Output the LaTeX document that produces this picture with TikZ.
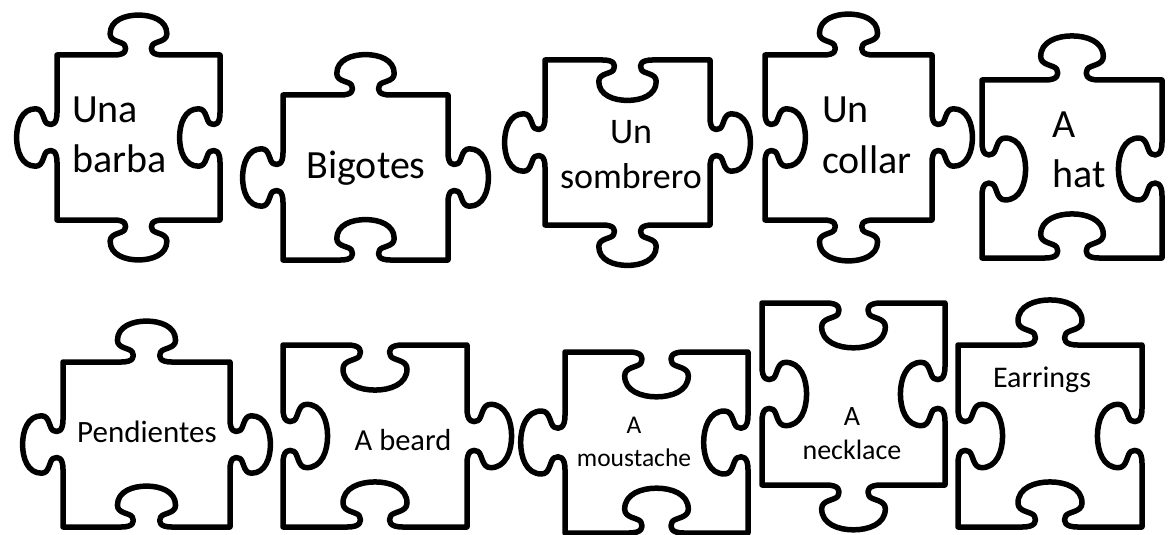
\documentclass[tikz,border=0pt]{standalone}
\usepackage{fontspec}
\setmainfont{Carlito}
\usetikzlibrary{calc}
\tikzset{
 piece/.style={line width=5.5pt, line join=round, line cap=round, draw=black},
 lab/.style={inner sep=0pt, text=black},
 tab/.style={to path={
  -- ($(\tikztostart)!0.35!(\tikztotarget)$)
  .. controls ($(\tikztostart)!0.42!(\tikztotarget)$)
     and ($(\tikztostart)!0.43!(\tikztotarget)!{#1*0.03/0.57}!90:(\tikztotarget)$)
  .. ($(\tikztostart)!0.415!(\tikztotarget)!{#1*0.06/0.585}!90:(\tikztotarget)$)
  .. controls ($(\tikztostart)!0.40!(\tikztotarget)!{#1*0.085/0.60}!90:(\tikztotarget)$)
     and ($(\tikztostart)!0.326!(\tikztotarget)!{#1*0.08/0.674}!90:(\tikztotarget)$)
  .. ($(\tikztostart)!0.326!(\tikztotarget)!{#1*0.13/0.674}!90:(\tikztotarget)$)
  .. controls ($(\tikztostart)!0.326!(\tikztotarget)!{#1*0.215/0.674}!90:(\tikztotarget)$)
     and ($(\tikztostart)!0.42!(\tikztotarget)!{#1*0.245/0.58}!90:(\tikztotarget)$)
  .. ($(\tikztostart)!0.5!(\tikztotarget)!{#1*0.245/0.5}!90:(\tikztotarget)$)
  .. controls ($(\tikztostart)!0.58!(\tikztotarget)!{#1*0.245/0.42}!90:(\tikztotarget)$)
     and ($(\tikztostart)!0.674!(\tikztotarget)!{#1*0.215/0.326}!90:(\tikztotarget)$)
  .. ($(\tikztostart)!0.674!(\tikztotarget)!{#1*0.13/0.326}!90:(\tikztotarget)$)
  .. controls ($(\tikztostart)!0.674!(\tikztotarget)!{#1*0.08/0.326}!90:(\tikztotarget)$)
     and ($(\tikztostart)!0.60!(\tikztotarget)!{#1*0.085/0.40}!90:(\tikztotarget)$)
  .. ($(\tikztostart)!0.585!(\tikztotarget)!{#1*0.06/0.415}!90:(\tikztotarget)$)
  .. controls ($(\tikztostart)!0.57!(\tikztotarget)!{#1*0.03/0.43}!90:(\tikztotarget)$)
     and ($(\tikztostart)!0.58!(\tikztotarget)$)
  .. ($(\tikztostart)!0.65!(\tikztotarget)$)
  -- (\tikztotarget)
 }}
}
\begin{document}
\begin{tikzpicture}[x=1pt,y=-1pt]
\useasboundingbox[fill=white] (0,0) rectangle (1168,535);
% row 1
\draw[piece] (57,55) to[tab=1] (220,55) to[tab=-1] (220,220) to[tab=1] (57,220) to[tab=1] (57,55) -- cycle;
\draw[piece] (283,95) to[tab=1] (448,95) to[tab=1] (448,260) to[tab=-1] (283,260) to[tab=1] (283,95) -- cycle;
\draw[piece] (545,60) to[tab=-1] (710,60) to[tab=1] (710,225) to[tab=1] (545,225) to[tab=1] (545,60) -- cycle;
\draw[piece] (765,55) to[tab=1] (932,55) to[tab=1] (932,220) to[tab=1] (765,220) to[tab=-1] (765,55) -- cycle;
\draw[piece] (982,80) to[tab=1] (1162,80) to[tab=-1] (1162,258) to[tab=-1] (982,258) to[tab=-1] (982,80) -- cycle;
% row 2
\draw[piece] (63,362) to[tab=1] (230,362) to[tab=1] (230,527) to[tab=-1] (63,527) to[tab=1] (63,362) -- cycle;
\draw[piece] (283,345) to[tab=-1] (467,345) to[tab=1] (467,527) to[tab=-1] (283,527) to[tab=-1] (283,345) -- cycle;
\draw[piece] (565,352) to[tab=-1] (748,352) to[tab=-1] (748,533) to[tab=-1] (565,533) to[tab=1] (565,352) -- cycle;
\draw[piece] (762,303) to[tab=-1] (945,303) to[tab=-1] (945,485) to[tab=1] (762,485) to[tab=-1] (762,303) -- cycle;
\draw[piece] (958,345) to[tab=1] (1142,345) to[tab=-1] (1142,527) to[tab=-1] (958,527) to[tab=-1] (958,345) -- cycle;
% labels
\node[lab, font=\fontsize{40}{50}\selectfont, align=left, anchor=west] (t1) at (72,135) {Una\\barba};
\node[lab, font=\fontsize{40}{50}\selectfont] (t2) at (366,168) {Bigotes};
\node[lab, font=\fontsize{36}{45}\selectfont, align=center] (t3) at (631,155) {Un\\sombrero};
\node[lab, font=\fontsize{40}{51}\selectfont, align=left, anchor=west] (t4) at (822,135) {Un\\collar};
\node[lab, font=\fontsize{40}{50}\selectfont, align=left, anchor=west] (t5) at (1052,150) {A\\hat};
\node[lab, font=\fontsize{31}{38}\selectfont] (t6) at (147,432) {Pendientes};
\node[lab, font=\fontsize{30.5}{37}\selectfont] (t7) at (403,440) {A beard};
\node[lab, font=\fontsize{25.5}{33}\selectfont, align=center] (t8) at (634,442) {A\\moustache};
\node[lab, font=\fontsize{28}{34}\selectfont, align=center] (t9) at (852,434) {A\\necklace};
\node[lab, font=\fontsize{30}{37}\selectfont] (t10) at (1042,380) {Earrings};
\end{tikzpicture}
\end{document}
